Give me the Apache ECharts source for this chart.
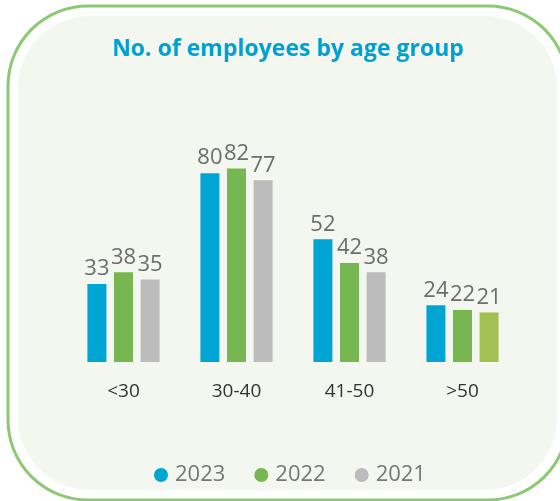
<!DOCTYPE html>
<html>
<head>
<meta charset="utf-8">
<title>No. of employees by age group</title>
<script src="https://cdn.jsdelivr.net/npm/echarts@6.0.0/dist/echarts.min.js"></script>
<style>
  html, body { margin: 0; padding: 0; background: #fff; }
  #chart { width: 560px; height: 501px; }
</style>
</head>
<body>
<div id="chart"></div>
<script>
  // --- Data ---
  const ageGroups = ['<30', '30-40', '41-50', '>50'];
  const years = ['2023', '2022', '2021'];
  const values2023 = [33, 80, 52, 24];
  const values2022 = [38, 82, 42, 22];
  const values2021 = [35, 77, 38, 21];

  const colors = ['#00a5d3', '#76b751', '#bcbcbc'];

  const chart = echarts.init(document.getElementById('chart'), null, { renderer: 'canvas' });

  function makeSeries(name, data, color) {
    return {
      name: name,
      type: 'bar',
      data: data,
      barWidth: 19,
      barGap: '40%',
      itemStyle: { color: color },
      label: {
        show: true,
        position: 'top',
        distance: 4,
        color: '#6d6d6d',
        fontSize: 22,
        fontFamily: 'Open Sans'
      }
    };
  }

  const s2021 = makeSeries(years[2], values2021, colors[2]);
  // the last 2021 bar is drawn in a light olive green in the original
  s2021.data = values2021.map((v, i) =>
    i === 3 ? { value: v, itemStyle: { color: '#a3c052' } } : v);

  const option = {
    backgroundColor: '#fff',
    animation: false,
    color: colors,
    graphic: [
      {
        type: 'rect',
        z: -10,
        shape: { x: 8, y: 6, width: 560, height: 494, r: 80 },
        style: { fill: '#fff', stroke: '#8dc873', lineWidth: 3 }
      },
      {
        type: 'rect',
        z: -9,
        shape: { x: 18, y: 16, width: 539, height: 474, r: 72 },
        style: { fill: '#f4f7ef' }
      }
    ],
    title: {
      text: 'No. of employees by age group',
      left: 283,
      textAlign: 'center',
      top: 33,
      textStyle: {
        color: '#00a0d2',
        fontSize: 23,
        fontWeight: 'bold',
        fontFamily: 'Open Sans'
      }
    },
    legend: {
      data: years,
      left: 149,
      top: 459,
      icon: 'circle',
      itemWidth: 14,
      itemHeight: 14,
      itemGap: 29,
      textStyle: {
        color: '#777',
        fontSize: 22,
        fontFamily: 'Open Sans',
        padding: [0, 0, 0, 2]
      }
    },
    grid: {
      left: 67,
      right: 41,
      top: 126,
      bottom: 139
    },
    xAxis: {
      type: 'category',
      data: ageGroups,
      axisLine: { show: false },
      axisTick: { show: false },
      axisLabel: {
        margin: 20,
        color: '#333',
        fontSize: 19,
        fontFamily: 'Open Sans'
      }
    },
    yAxis: {
      type: 'value',
      min: 0,
      max: 100,
      show: false
    },
    series: [
      makeSeries(years[0], values2023, colors[0]),
      makeSeries(years[1], values2022, colors[1]),
      s2021
    ]
  };

  chart.setOption(option);
</script>
</body>
</html>
